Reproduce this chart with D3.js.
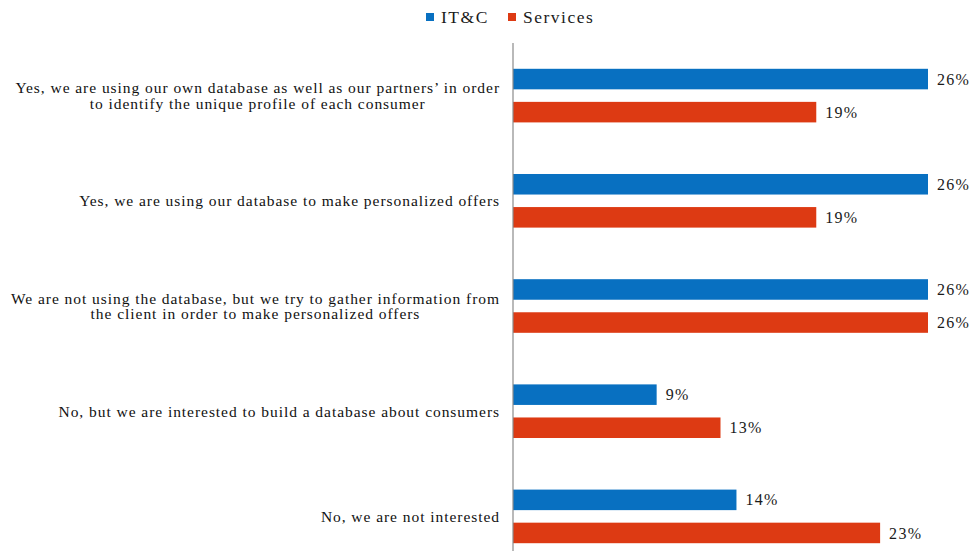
<!DOCTYPE html>
<html>
<head>
<meta charset="utf-8">
<script src="https://cdn.jsdelivr.net/npm/d3@7"></script>
<style>
  html, body { margin: 0; padding: 0; background: #fff; }
  svg { display: block; font-family: "Liberation Serif", "Times New Roman", serif; }
</style>
</head>
<body>
<svg id="chart" width="974" height="551"></svg>
<script>
// Survey answers (top to bottom), each split over two lines where needed
const categories = [
  ["Yes, we are using our own database as well as our partners\u2019 in order", "to identify the unique profile of each consumer"],
  ["Yes, we are using our database to make personalized offers"],
  ["We are not using the database, but we try to gather information from", "the client in order to make personalized offers"],
  ["No, but we are interested to build a database about consumers"],
  ["No, we are not interested"]
];
const seriesNames = ["IT&C", "Services"];
const itcValues = [26, 26, 26, 9, 14];
const servicesValues = [19, 19, 26, 13, 23];
const seriesColors = ["#0870C1", "#DD3A13"];

const svg = d3.select("#chart");
const left = 513, right = 928;

const y = d3.scaleBand()
  .domain(d3.range(categories.length))
  .range([43, 569])
  .paddingInner(0);

const ySub = d3.scaleBand()
  .domain(seriesNames)
  .range([0, y.bandwidth()])
  .paddingInner(0.379)
  .paddingOuter(0.78);

const x = d3.scaleLinear().domain([0, 26]).range([left, right]);

const rows = categories.map((c, i) => ({
  i, label: c,
  values: [
    { name: seriesNames[0], v: itcValues[i], color: seriesColors[0] },
    { name: seriesNames[1], v: servicesValues[i], color: seriesColors[1] }
  ]
}));

// Bars and value labels
const g = svg.append("g");
const groups = g.selectAll("g.row").data(rows).join("g")
  .attr("class", "row")
  .attr("transform", d => `translate(0,${y(d.i)})`);

groups.selectAll("rect").data(d => d.values).join("rect")
  .attr("x", x(0))
  .attr("y", d => ySub(d.name))
  .attr("width", d => x(d.v) - x(0))
  .attr("height", ySub.bandwidth())
  .attr("fill", d => d.color);

groups.selectAll("text.val").data(d => d.values).join("text")
  .attr("class", "val")
  .attr("x", d => x(d.v) + 9)
  .attr("y", d => ySub(d.name) + ySub.bandwidth() / 2)
  .attr("dy", "0.35em")
  .attr("font-size", 16)
  .attr("letter-spacing", 1.3)
  .attr("fill", "#1a1a1a")
  .text(d => d.v + "%");

// Vertical category axis line
const yAxis = d3.axisLeft(y).tickSize(0).tickFormat("");
const axisG = svg.append("g").attr("transform", `translate(${left},0)`).call(yAxis);
axisG.select(".domain").attr("stroke", "#8a8a8a").attr("stroke-width", 1.2)
  .attr("d", `M0,43V551`);

// Category labels: block right-aligned next to the axis, lines centred within the block
const lineH = 15.5;
const labelRight = 500;
rows.forEach(r => {
  const lg = svg.append("g");
  const cy = y(r.i) + y.bandwidth() / 2;
  const n = r.label.length;
  const texts = r.label.map((line, k) => lg.append("text")
    .attr("font-size", 15.5)
    .attr("letter-spacing", 0.95)
    .attr("fill", "#111")
    .attr("text-anchor", "middle")
    .attr("y", cy + (k - (n - 1) / 2) * lineH)
    .attr("dy", "0.35em")
    .text(line));
  const w = d3.max(texts, t => t.node().getComputedTextLength());
  texts.forEach(t => t.attr("x", labelRight - w / 2));
});

// Legend
const legend = svg.append("g").attr("transform", "translate(426,13)");
const legendX = [0, 82];
seriesNames.forEach((s, i) => {
  legend.append("rect").attr("x", legendX[i]).attr("y", 0)
    .attr("width", 8).attr("height", 8).attr("fill", seriesColors[i]);
  legend.append("text").attr("x", legendX[i] + 15).attr("y", 4)
    .attr("dy", "0.35em").attr("font-size", 17.5).attr("fill", "#1a1a1a")
    .attr("letter-spacing", 1.5)
    .text(s);
});
</script>
</body>
</html>
